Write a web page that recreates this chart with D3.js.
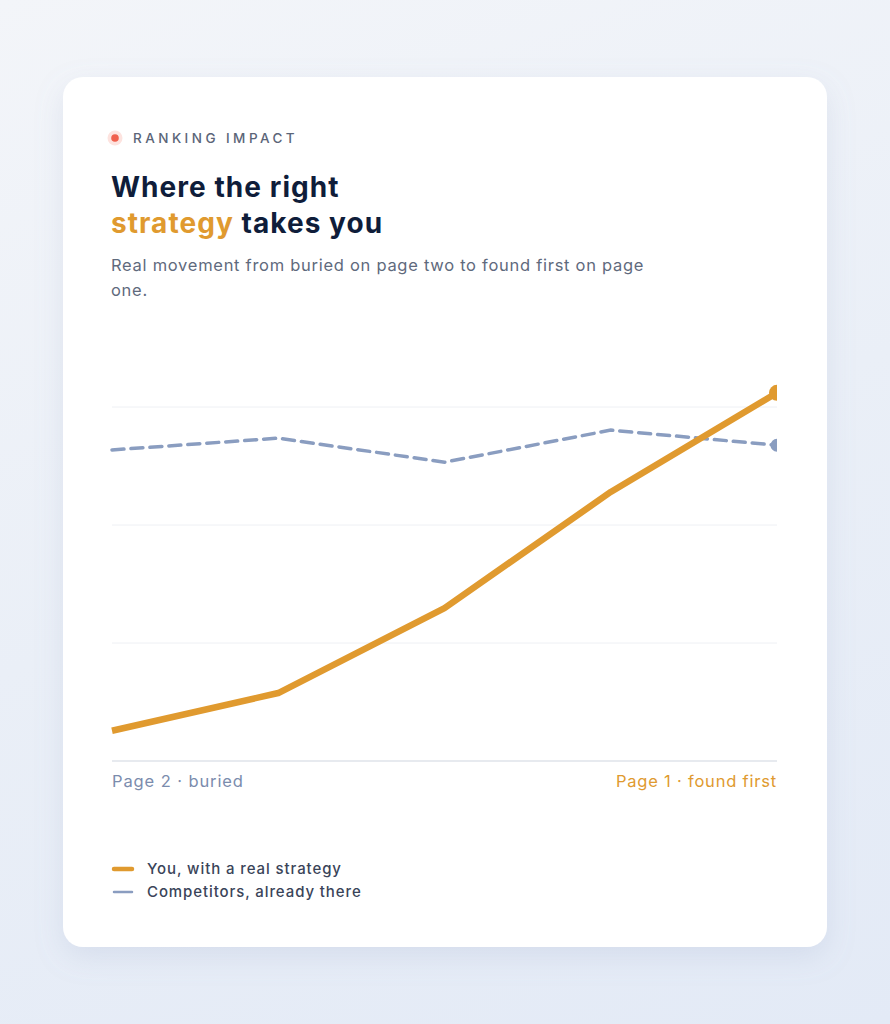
<!DOCTYPE html>
<html><head><meta charset="utf-8">
<script src="https://cdn.jsdelivr.net/npm/d3@7"></script>
<style>
html,body{margin:0;padding:0;}
body{width:890px;height:1024px;overflow:hidden;background:linear-gradient(160deg,#f3f5f9 0%,#eaeff7 50%,#e3eaf6 100%);}
</style></head>
<body>
<svg id="c" width="890" height="1024"></svg>
<script>
const steps = ["s1","s2","s3","s4","s5"];
const youValues = [6.4, 14.4, 32.4, 57.0, 78.0];
const compValues = [65.9, 68.4, 63.3, 70.1, 66.9];
const gridTicks = [25, 50, 75];
const axisLabels = ["Page 2 · buried", "Page 1 · found first"];
const legendLabels = ["You, with a real strategy", "Competitors, already there"];

const FONT = "Inter, 'Open Sans', sans-serif";
const svg = d3.select("#c");
const defs = svg.append("defs");
const f = defs.append("filter").attr("id","sh").attr("x","-20%").attr("y","-20%").attr("width","140%").attr("height","140%");
f.append("feDropShadow").attr("dx",0).attr("dy",10).attr("stdDeviation",14).attr("flood-color","#8a9cc0").attr("flood-opacity",0.18);

svg.append("rect").attr("x",63).attr("y",77).attr("width",764).attr("height",870).attr("rx",20)
  .attr("fill","#fff").attr("filter","url(#sh)");

// eyebrow
svg.append("circle").attr("cx",115).attr("cy",138).attr("r",7.5).attr("fill","#fde3df");
svg.append("circle").attr("cx",115).attr("cy",138).attr("r",3.8).attr("fill","#f0604d");
svg.append("text").attr("x",133).attr("y",143).attr("font-family",FONT).attr("font-size",13.5)
  .attr("font-weight",500).attr("letter-spacing","3.45px").attr("fill","#5b6578").text("RANKING IMPACT");

// title
const t1 = svg.append("text").attr("font-family",FONT).attr("font-size",28).attr("font-weight",700)
  .attr("letter-spacing","1.05px").attr("fill","#0f1d3a");
t1.append("tspan").attr("x",111).attr("y",197).text("Where the right");
const l2 = t1.append("tspan").attr("x",111).attr("y",233);
l2.append("tspan").attr("fill","#e09a2f").text("strategy");
l2.append("tspan").text(" takes you");

const sub = svg.append("text").attr("font-family",FONT).attr("font-size",16.5).attr("letter-spacing","0.72px").attr("fill","#5f6a7d");
sub.append("tspan").attr("x",111).attr("y",271).text("Real movement from buried on page two to found first on page");
sub.append("tspan").attr("x",111).attr("y",296).text("one.");

// chart
const x = d3.scalePoint().domain(steps).range([112,777]);
const y = d3.scaleLinear().domain([0,100]).range([761,289]);

defs.append("clipPath").attr("id","clip").append("rect").attr("x",100).attr("y",280).attr("width",677).attr("height",490);

svg.append("g").selectAll("line").data(gridTicks).join("line")
  .attr("x1",112).attr("x2",777).attr("y1",d=>y(d)).attr("y2",d=>y(d))
  .attr("stroke","#eef0f4").attr("stroke-width",1);

svg.append("line").attr("x1",112).attr("x2",777).attr("y1",y(0)).attr("y2",y(0))
  .attr("stroke","#dfe3ea").attr("stroke-width",1.5);

const g = svg.append("g").attr("clip-path","url(#clip)");
const line = d3.line().x((d,i)=>x(steps[i])).y(d=>y(d));

g.append("path").datum(compValues).attr("d",line).attr("fill","none")
  .attr("stroke","#8a9dc0").attr("stroke-width",3.5).attr("stroke-dasharray","12,7")
  .attr("stroke-linecap","round");
g.append("path").datum(youValues).attr("d",line).attr("fill","none")
  .attr("stroke","#e09a2f").attr("stroke-width",6.5).attr("stroke-linejoin","round");

g.append("circle").attr("cx",x(steps[4])).attr("cy",y(compValues[4])).attr("r",6.5).attr("fill","#8a9dc0");
g.append("circle").attr("cx",x(steps[4])).attr("cy",y(youValues[4])).attr("r",8).attr("fill","#e09a2f");

svg.append("text").attr("x",112).attr("y",787).attr("font-family",FONT).attr("font-size",16.5)
  .attr("letter-spacing","0.9px").attr("fill","#7b8cad").text(axisLabels[0]);
svg.append("text").attr("x",777).attr("y",787).attr("text-anchor","end").attr("font-family",FONT).attr("font-size",16.5)
  .attr("letter-spacing","0.8px").attr("fill","#e09a2f").text(axisLabels[1]);

// legend
const lg = svg.append("g");
const colors = ["#e09a2f","#8a9dc0"], widths=[4.5,2.5];
legendLabels.forEach((lab,i)=>{
  const yy = 869 + i*23;
  lg.append("line").attr("x1",114).attr("x2",132).attr("y1",yy).attr("y2",yy)
    .attr("stroke",colors[i]).attr("stroke-width",widths[i]).attr("stroke-linecap","round");
  lg.append("text").attr("x",147).attr("y",yy+5).attr("font-family",FONT).attr("font-size",15)
    .attr("font-weight",500).attr("letter-spacing","0.9px").attr("fill","#3a4459").text(lab);
});
</script>
</body></html>
